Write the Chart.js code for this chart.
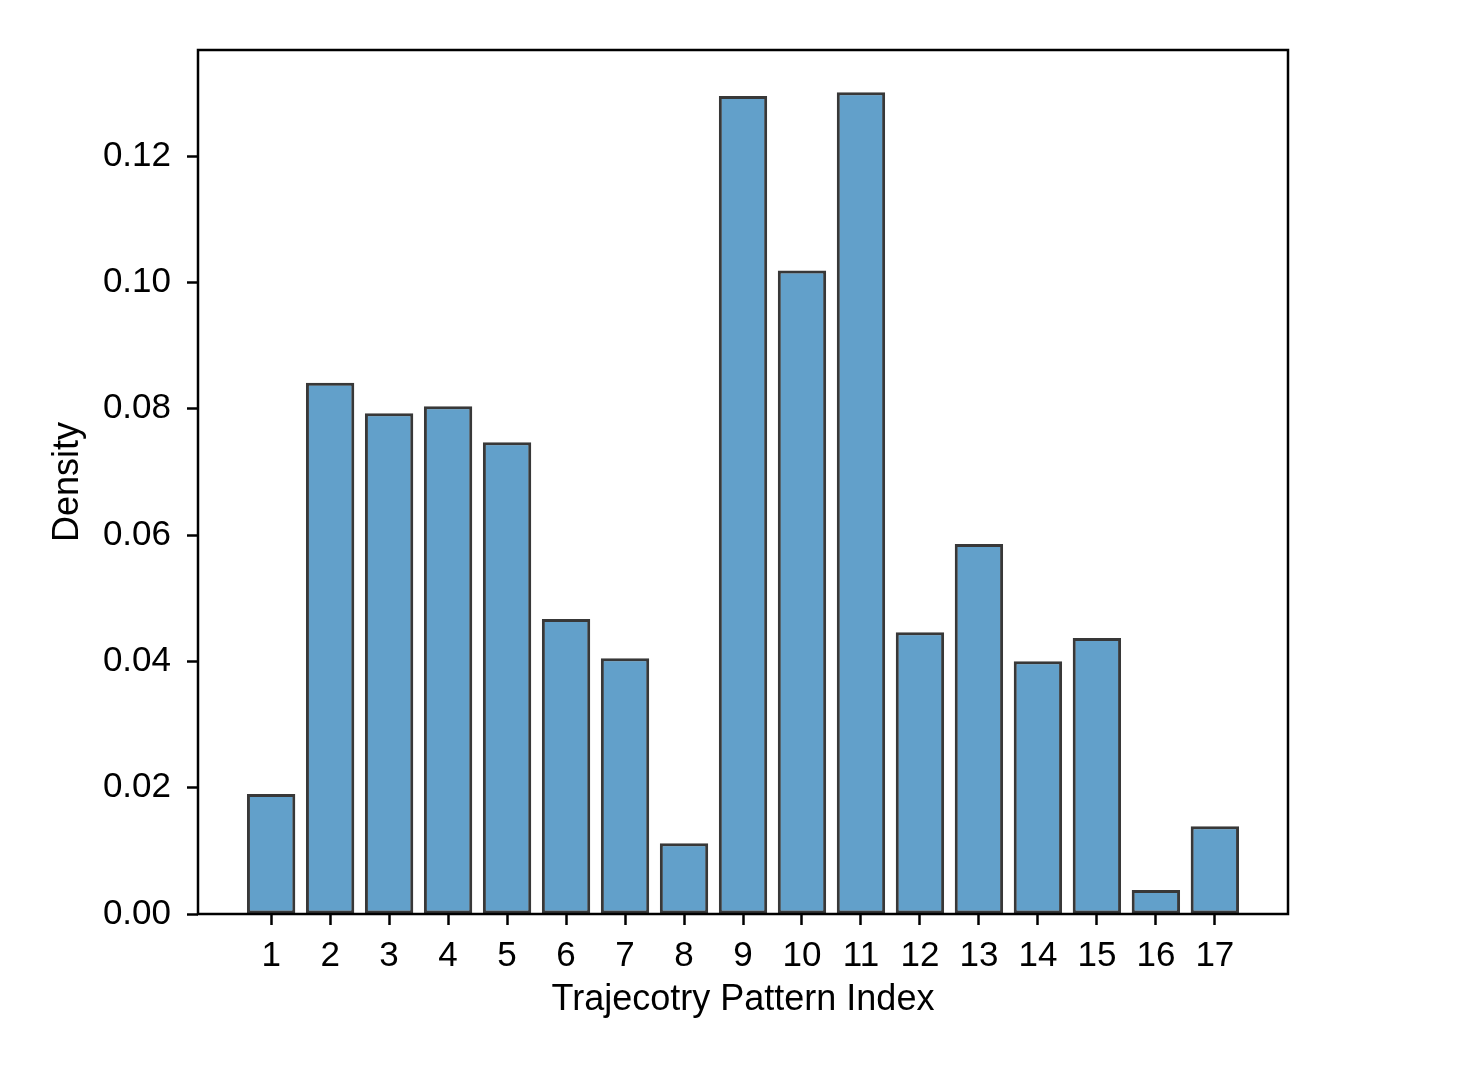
<!DOCTYPE html>
<html>
<head>
<meta charset="utf-8">
<script src="https://cdn.jsdelivr.net/npm/chart.js@4"></script>
<style>
html,body{margin:0;padding:0;background:#fff;}
canvas{display:block;}
</style>
</head>
<body>
<canvas id="c" width="1462" height="1072"></canvas>
<script>
const categories = [1, 2, 3, 4, 5, 6, 7, 8, 9, 10, 11, 12, 13, 14, 15, 16, 17];
const densityValues = [0.0190, 0.0841, 0.0793, 0.0804, 0.0747, 0.0467, 0.0405, 0.0112, 0.1295, 0.1019, 0.1301, 0.0446, 0.0586, 0.0400, 0.0437, 0.0038, 0.0139];
const yTickValues = [0.00, 0.02, 0.04, 0.06, 0.08, 0.10, 0.12];
const xTitle = 'Trajecotry Pattern Index';
const yTitle = 'Density';

const FONT = "Arial, 'Liberation Sans', Helvetica, sans-serif";

const frame = {
  id: 'frame',
  afterDatasetsDraw(chart) {
    const a = chart.chartArea, ctx = chart.ctx;
    ctx.save();
    ctx.strokeStyle = '#000';
    ctx.lineWidth = 2.5;
    ctx.strokeRect(a.left, a.top, a.right - a.left, a.bottom - a.top);
    ctx.restore();
  }
};

new Chart(document.getElementById('c'), {
  type: 'bar',
  data: {
    datasets: [{
      data: categories.map((c, i) => ({x: c, y: densityValues[i]})),
      backgroundColor: 'rgba(31,119,180,0.7)',
      borderColor: 'rgba(0,0,0,0.78)',
      borderWidth: 3,
      borderSkipped: false,
      barPercentage: 0.82,
      categoryPercentage: 1.0
    }]
  },
  options: {
    responsive: false,
    animation: false,
    devicePixelRatio: 1,
    layout: {padding: {left: 0, top: 50, right: 174, bottom: 0}},
    plugins: {legend: {display: false}, tooltip: {enabled: false}},
    scales: {
      x: {
        type: 'linear',
        offset: false,
        min: -0.24,
        max: 18.24,
        afterBuildTicks: s => { s.ticks = categories.map(v => ({value: v})); },
        afterFit: s => { s.height = 158; },
        ticks: {
          stepSize: 1,
          autoSkip: false,
          maxRotation: 0,
          padding: 10,
          color: '#000',
          font: {family: FONT, size: 35},
          callback: v => String(v)
        },
        grid: {offset: false, drawOnChartArea: false, tickLength: 11, tickWidth: 2.5, tickColor: '#000'},
        border: {display: false},
        title: {display: true, text: xTitle, color: '#000', font: {family: FONT, size: 36}, padding: {top: 0, bottom: 50}}
      },
      y: {
        min: 0,
        max: 0.1368,
        afterBuildTicks: s => { s.ticks = yTickValues.map(v => ({value: v})); },
        afterFit: s => { s.width = 198; },
        ticks: {
          padding: 16,
          color: '#000',
          font: {family: FONT, size: 35},
          callback: v => Number(v).toFixed(2)
        },
        grid: {drawOnChartArea: false, tickLength: 11, tickWidth: 2.5, tickColor: '#000'},
        border: {display: false},
        title: {display: true, text: yTitle, color: '#000', font: {family: FONT, size: 36}, padding: {top: 46, bottom: 0}}
      }
    }
  },
  plugins: [frame]
});
</script>
</body>
</html>
